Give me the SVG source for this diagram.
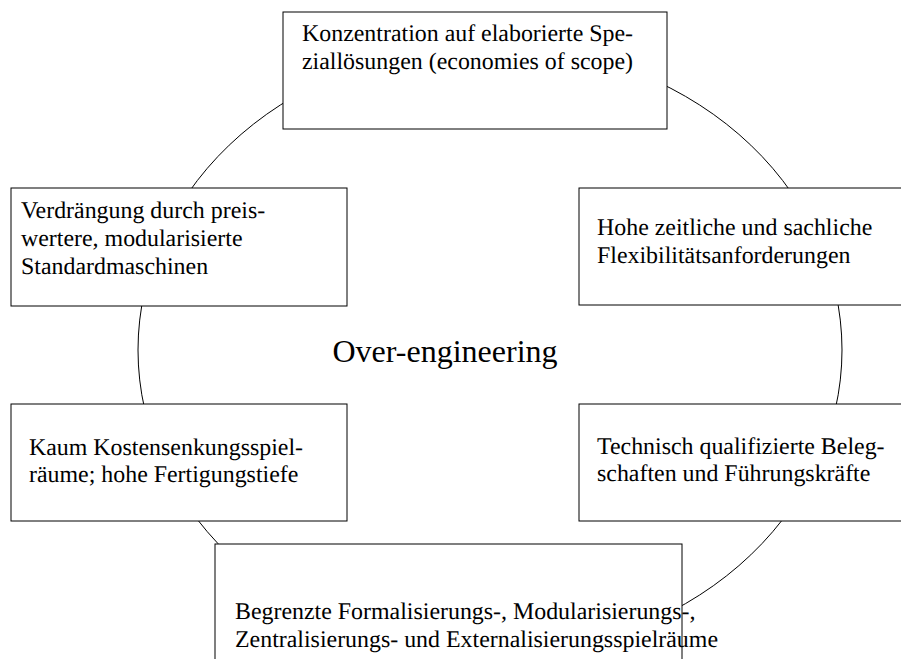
<svg xmlns="http://www.w3.org/2000/svg" width="901" height="659" viewBox="0 0 901 659">
<style>
.box{fill:#fff;stroke:#000;stroke-width:1}
.lbl{font-family:"Liberation Serif","Times New Roman",serif;font-size:23.9px;fill:#000;text-rendering:geometricPrecision}
.big{font-family:"Liberation Serif","Times New Roman",serif;font-size:32px;fill:#000}
.conn{fill:none;stroke:#000;stroke-width:1}
</style>
<rect width="901" height="659" fill="#fff"/>
<g id="connectors">
<ellipse class="conn" cx="490" cy="350" rx="352" ry="305"/>
</g>
<g id="center">
<text class="big" x="445" y="362" text-anchor="middle">Over-engineering</text>
</g>
<g id="node-top">
<rect class="box" x="283" y="12" width="384" height="117"/>
<text class="lbl" x="302" y="41">Konzentration auf elaborierte Spe-</text>
<text class="lbl" x="302" y="69">ziallösungen (economies of scope)</text>
</g>
<g id="node-left-top">
<rect class="box" x="11" y="188" width="336" height="118"/>
<text class="lbl" x="21" y="218">Verdrängung durch preis-</text>
<text class="lbl" x="21" y="246">wertere, modularisierte</text>
<text class="lbl" x="21" y="274">Standardmaschinen</text>
</g>
<g id="node-right-top">
<rect class="box" x="579" y="188" width="330" height="117"/>
<text class="lbl" x="597" y="235">Hohe zeitliche und sachliche</text>
<text class="lbl" x="597" y="263">Flexibilitätsanforderungen</text>
</g>
<g id="node-left-bottom">
<rect class="box" x="11" y="404" width="336" height="117"/>
<text class="lbl" x="29" y="455">Kaum Kostensenkungsspiel-</text>
<text class="lbl" x="29" y="482">räume; hohe Fertigungstiefe</text>
</g>
<g id="node-right-bottom">
<rect class="box" x="579" y="404" width="330" height="117"/>
<text class="lbl" x="597" y="454">Technisch qualifizierte Beleg-</text>
<text class="lbl" x="597" y="481">schaften und Führungskräfte</text>
</g>
<g id="node-bottom">
<rect class="box" x="215" y="544" width="467" height="125"/>
<text class="lbl" x="235" y="619">Begrenzte Formalisierungs-, Modularisierungs-,</text>
<text class="lbl" x="235" y="647">Zentralisierungs- und Externalisierungsspielräume</text>
</g>
</svg>
